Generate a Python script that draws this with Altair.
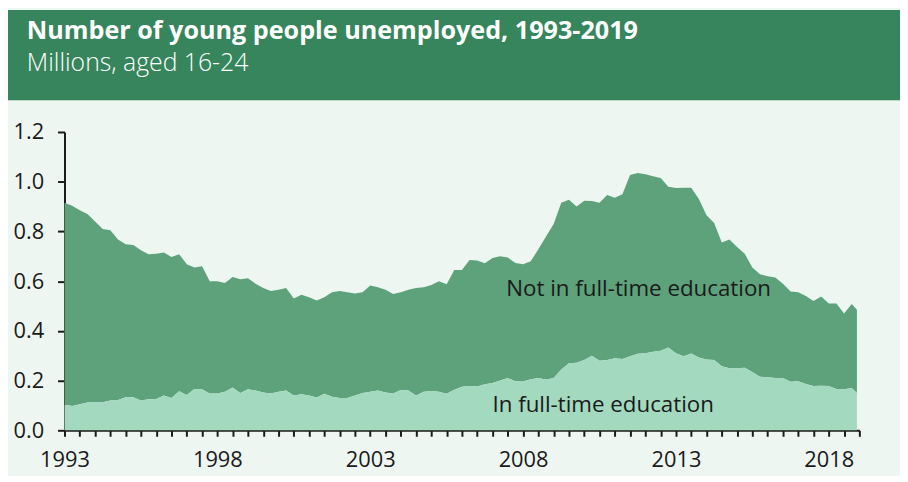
import altair as alt
import pandas as pd

# quarterly sampling grid (decimal years) and the last observation
quarters = [1993 + q / 4 for q in range(104)] + [2018.92]

# total young people unemployed (millions)
total = [
    0.915, 0.903, 0.885, 0.87, 0.84, 0.81, 0.805, 0.768, 0.748, 0.745, 0.724, 0.708, 0.71,
    0.715, 0.697, 0.708, 0.668, 0.655, 0.66, 0.60, 0.60, 0.593, 0.617, 0.608, 0.612, 0.59, 0.572,
    0.56, 0.565, 0.572, 0.53, 0.545, 0.535, 0.522, 0.535, 0.555, 0.56, 0.555, 0.55, 0.555,
    0.582, 0.575, 0.565, 0.548, 0.555, 0.565, 0.572, 0.575, 0.585, 0.60, 0.588, 0.645, 0.645,
    0.685, 0.683, 0.672, 0.693, 0.70, 0.695, 0.673, 0.668, 0.68, 0.728, 0.78, 0.83, 0.915,
    0.927, 0.90, 0.923, 0.922, 0.915, 0.947, 0.935, 0.95, 1.027, 1.035, 1.03, 1.022, 1.015,
    0.98, 0.975, 0.976, 0.976, 0.93, 0.865, 0.834, 0.755, 0.768, 0.737, 0.71, 0.655, 0.628,
    0.62, 0.615, 0.59, 0.558, 0.555, 0.54, 0.52, 0.538, 0.51, 0.51, 0.47, 0.508, 0.485,
]

# in full-time education (millions)
in_fte = [
    0.104, 0.098, 0.105, 0.112, 0.113, 0.113, 0.12, 0.122, 0.133, 0.133, 0.12, 0.125, 0.126,
    0.14, 0.13, 0.157, 0.142, 0.166, 0.165, 0.148, 0.148, 0.155, 0.172, 0.15, 0.165, 0.16, 0.152,
    0.148, 0.155, 0.16, 0.14, 0.145, 0.14, 0.132, 0.147, 0.135, 0.13, 0.13, 0.14, 0.15,
    0.155, 0.16, 0.152, 0.148, 0.162, 0.16, 0.14, 0.155, 0.158, 0.155, 0.147, 0.163, 0.175,
    0.178, 0.176, 0.185, 0.19, 0.2, 0.21, 0.197, 0.196, 0.205, 0.21, 0.204, 0.21, 0.245,
    0.27, 0.272, 0.283, 0.3, 0.28, 0.283, 0.29, 0.287, 0.298, 0.308, 0.31, 0.316, 0.32,
    0.333, 0.31, 0.298, 0.309, 0.293, 0.285, 0.283, 0.258, 0.25, 0.25, 0.252, 0.235, 0.215,
    0.213, 0.21, 0.21, 0.195, 0.197, 0.186, 0.178, 0.179, 0.178, 0.166, 0.165, 0.17, 0.15,
]

series_labels = ["Not in full-time education", "In full-time education"]
title_text = "Number of young people unemployed, 1993-2019"
subtitle_text = "Millions, aged 16-24"
x_ticks = [1993 + h / 2 for h in range(53)]
y_ticks = [0, 0.2, 0.4, 0.6, 0.8, 1.0, 1.2]

df = pd.DataFrame({"t": quarters, "total": total, "fte": in_fte})

FONT = "Open Sans"
HEADER = "#37855c"
DARK = "#5da27a"
LIGHT = "#a3d9bf"
BG = "#edf6f1"
INK = "#1a1a1a"

W, H = 802, 301
PL, PT, PR, PB = 57, 123, 41, 44

xs = alt.Scale(domain=[1993, 2019], nice=False, zero=False)
ys = alt.Scale(domain=[0, 1.2], nice=False)

x_axis = alt.Axis(
    values=x_ticks,
    labelExpr="(datum.value - 1993) % 5 == 0 ? format(datum.value, 'd') : ''",
    title=None, grid=False, tickSize=6, tickWidth=2, domainWidth=2,
    tickColor=INK, domainColor=INK, labelColor=INK, labelFont=FONT,
    labelFontSize=22, labelPadding=14, labelFlush=False, labelOverlap=False,
    tickCount=53,
)
y_axis = alt.Axis(
    values=y_ticks, format=".1f", title=None, grid=False, tickSize=7,
    tickWidth=2, domainWidth=2, tickColor=INK, domainColor=INK, labelColor=INK,
    labelFont=FONT, labelFontSize=22, labelPadding=14,
)

one = pd.DataFrame({"a": [0]})

header = alt.Chart(one).mark_rect(color=HEADER).encode(
    x=alt.value(-PL), x2=alt.value(W + PR), y=alt.value(-PT), y2=alt.value(-32)
)

upper = alt.Chart(df).mark_area(color=DARK).encode(
    x=alt.X("t:Q", scale=xs, axis=x_axis),
    y=alt.Y("total:Q", scale=ys, axis=y_axis),
    y2="fte:Q",
)
lower = alt.Chart(df).mark_area(color=LIGHT).encode(
    x=alt.X("t:Q", scale=xs, axis=x_axis),
    y=alt.Y("fte:Q", scale=ys, axis=y_axis),
)

title = alt.Chart(one).mark_text(
    align="left", baseline="alphabetic", font=FONT, fontSize=25.4,
    fontWeight="bold", color="white",
).encode(x=alt.value(-38), y=alt.value(-94), text=alt.value(title_text))

subtitle = alt.Chart(one).mark_text(
    align="left", baseline="alphabetic", font=FONT, fontSize=25,
    fontWeight=300, color="white",
).encode(x=alt.value(-38), y=alt.value(-62), text=alt.value(subtitle_text))

ann = pd.DataFrame({
    "label": series_labels,
    "t": [2011.78, 2010.62],
    "v": [0.542, 0.0745],
})
annotations = alt.Chart(ann).mark_text(
    align="center", baseline="alphabetic", font=FONT, fontSize=22.5, color=INK,
).encode(x=alt.X("t:Q", scale=xs), y=alt.Y("v:Q", scale=ys), text="label:N")

chart = alt.layer(header, upper, lower, annotations, title, subtitle).properties(
    width=W, height=H,
    autosize=alt.AutoSizeParams(type="none"),
    padding={"left": PL, "top": PT, "right": PR, "bottom": PB},
    background=BG,
).configure_view(stroke=None)

chart.save("out.html", embed_options={"renderer": "svg", "actions": False})
